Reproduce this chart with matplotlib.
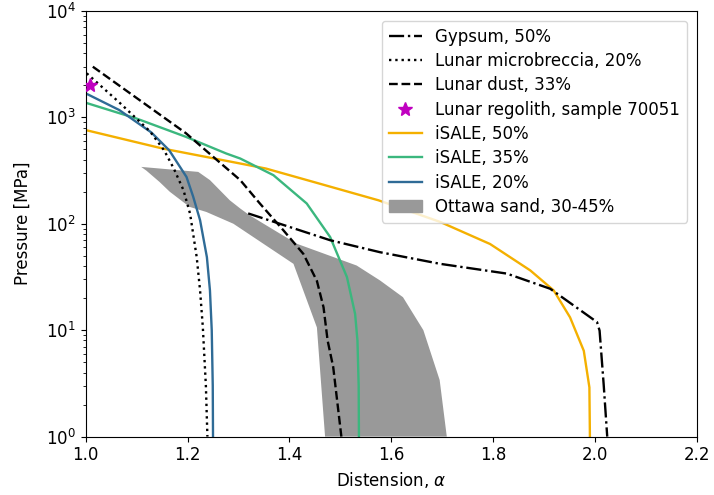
import matplotlib
matplotlib.use("Agg")
import matplotlib.pyplot as plt

# ---- data ----
gypsum_alpha = [1.319, 1.381, 1.480, 1.578, 1.696, 1.827, 1.912, 2.004, 2.009, 2.017, 2.024]
gypsum_p = [125, 100, 70, 54, 42, 34, 24.5, 11.9, 9.9, 3.1, 1.0]

micro_alpha = [1.002, 1.066, 1.126, 1.154, 1.173, 1.192, 1.205, 1.218, 1.2246, 1.230, 1.236, 1.239]
micro_p = [2590, 1380, 740, 490, 330, 207, 124, 48.5, 23.6, 10.7, 3.0, 1.0]

dust_alpha = [1.014, 1.197, 1.250, 1.3035, 1.342, 1.388, 1.4275, 1.454, 1.467, 1.475, 1.486, 1.502]
dust_p = [2990, 708, 427, 257, 155, 87, 52, 29, 16.4, 8.0, 4.5, 1.0]

regolith_alpha = [1.008]
regolith_p = [2000]

isale50_alpha = [1.0, 1.151, 1.3035, 1.354, 1.45, 1.575, 1.696, 1.794, 1.873, 1.919, 1.951, 1.978, 1.989, 1.990]
isale50_p = [759, 509, 368, 330, 245, 166, 104, 64.5, 36.4, 23.6, 13.2, 6.4, 2.9, 1.0]

isale35_alpha = [1.0, 1.099, 1.197, 1.276, 1.3035, 1.3686, 1.434, 1.48, 1.513, 1.529, 1.5336, 1.536, 1.5365]
isale35_p = [1371, 977, 655, 457, 410, 286, 155, 75, 31.5, 14.2, 8.0, 3.0, 1.0]

isale20_alpha = [1.0, 1.066, 1.129, 1.164, 1.198, 1.211, 1.2246, 1.238, 1.244, 1.2475, 1.2495, 1.25]
isale20_p = [1680, 1170, 720, 490, 275, 180, 108, 48.5, 23.6, 10.0, 3.0, 1.0]

ottawa_alpha = [1.109, 1.221, 1.244, 1.283, 1.3035, 1.322, 1.414, 1.532, 1.578, 1.623, 1.663, 1.695, 1.709,
                1.470, 1.454, 1.408, 1.290, 1.237, 1.204, 1.165, 1.145, 1.119]
ottawa_p = [342, 307, 257, 166, 139, 120, 65, 40.5, 29.3, 20.4, 10.0, 3.4, 1.0,
            1.0, 10.6, 42, 100, 129, 144, 200, 247, 316]

plt.rcParams['font.family'] = ['DejaVu Sans']
plt.rcParams['font.size'] = 12

fig = plt.figure(figsize=(7.14, 4.95), dpi=100)
ax = fig.add_axes([0.120, 0.118, 0.856, 0.860])

lw = 1.7
ax.fill(ottawa_alpha, ottawa_p, color='#999999', lw=0, zorder=1)
ax.plot(gypsum_alpha, gypsum_p, 'k-.', lw=lw, label='Gypsum, 50%', zorder=3)
ax.plot(micro_alpha, micro_p, 'k:', lw=lw, label='Lunar microbreccia, 20%', zorder=3)
ax.plot(dust_alpha, dust_p, 'k--', lw=lw, label='Lunar dust, 33%', zorder=3)
ax.plot(regolith_alpha, regolith_p, '*', color='#c000c0', ms=10, ls='none',
        label='Lunar regolith, sample 70051', zorder=4)
ax.plot(isale50_alpha, isale50_p, color='#f4b000', lw=lw, label='iSALE, 50%', zorder=2)
ax.plot(isale35_alpha, isale35_p, color='#3bb77e', lw=lw, label='iSALE, 35%', zorder=2)
ax.plot(isale20_alpha, isale20_p, color='#2f6b96', lw=lw, label='iSALE, 20%', zorder=2)
ax.fill([], [], color='#999999', label='Ottawa sand, 30-45%')

ax.set_yscale('log')
ax.set_xlim(1.0, 2.2)
ax.set_ylim(1, 1e4)
ax.set_xticks([1.0, 1.2, 1.4, 1.6, 1.8, 2.0, 2.2])
ax.set_xlabel(r'Distension, $\alpha$')
ax.set_ylabel('Pressure [MPa]', labelpad=10)
ax.legend(loc='upper right', fontsize=12, labelspacing=0.38, borderaxespad=0.6)

fig.savefig('out.png', dpi=100)
